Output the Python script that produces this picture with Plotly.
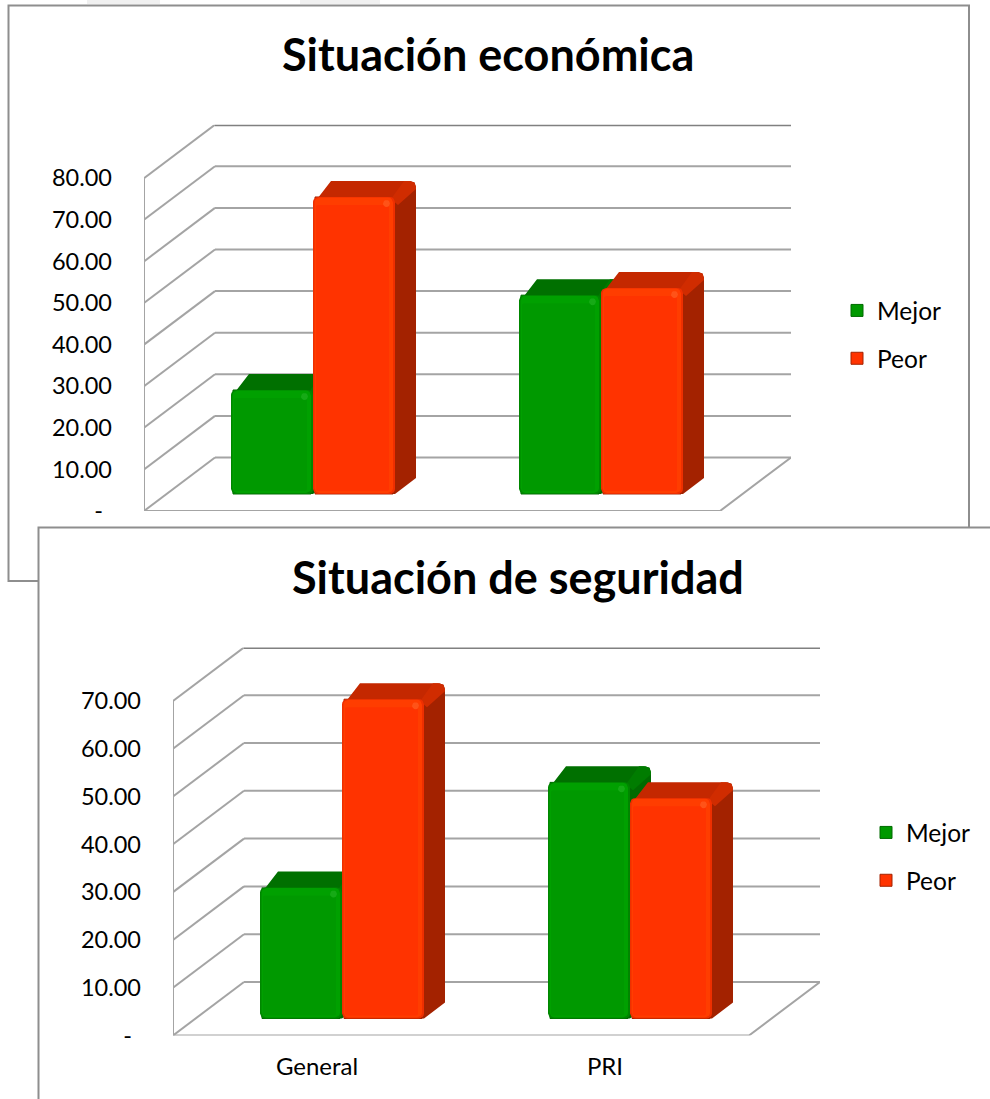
import math
import plotly.graph_objects as go

CATEGORIES = ["General", "PRI"]
SERIES = ["Mejor", "Peor"]
TITLE_1 = "Situación económica"
TITLE_2 = "Situación de seguridad"
MEJOR_1 = [25.0, 47.8]
PEOR_1 = [71.4, 49.5]
MEJOR_2 = [27.4, 49.4]
PEOR_2 = [66.8, 46.1]
TICKS_1 = [0, 10, 20, 30, 40, 50, 60, 70, 80]
TICKS_2 = [0, 10, 20, 30, 40, 50, 60, 70]
W, H = 990, 1099
FONT = "Lato"
GRID = "#a4a4a4"
BORDER = "#8e8e8e"

STYLE = {
    "Mejor": dict(base="#009900", rim="#008600", light="#00a000", hi="#16aa16", side="#006a00", top="#007000", facet="#007c00"),
    "Peor": dict(base="#ff3300", rim="#ee2f00", light="#ff3d00", hi="#ff5318", side="#a32200", top="#c42800", facet="#d02c00"),
}


def rrect(l, r, b, t, rad, sx, sy):
    pts = []
    for cx, cy, a0 in ((r - rad, t - rad, 0), (l + rad, t - rad, 90), (l + rad, b + rad, 180), (r - rad, b + rad, 270)):
        for k in range(5):
            a = math.radians(a0 + k * 22.5)
            pts.append((cx + rad * math.cos(a), cy + rad * math.sin(a)))
    pts.append(pts[0])
    return [p[0] * sx for p in pts], [p[1] * sy for p in pts]


def add_poly(fig, polys, color, xa, ya):
    xs, ys = [], []
    for px, py in polys:
        xs += list(px) + [None]
        ys += list(py) + [None]
    fig.add_trace(go.Scatter(x=xs, y=ys, mode="lines", fill="toself", fillcolor=color, line=dict(width=0, color=color),
                             hoverinfo="skip", showlegend=False, xaxis=xa, yaxis=ya, cliponaxis=False))


def panel(fig, idx, mejor, peor, ticks, left, y0, per10, legend_name):
    xa, ya = ("x", "y") if idx == 1 else ("x2", "y2")
    cat_px = 288.0
    ppu = per10 / 10.0
    back_dx, back_dy = 71.0, 53.5
    sx, sy = 1 / cat_px, 1 / ppu   # pixels to axis units
    top_v = ticks[-1]
    dxu, dyu = back_dx * sx, back_dy * sy
    xn = len(CATEGORIES)

    # walls and floor, from the tick values
    for v in ticks:
        fig.add_trace(go.Scatter(x=[0, dxu], y=[v, v + dyu], mode="lines", line=dict(color=GRID, width=2),
                                 hoverinfo="skip", showlegend=False, xaxis=xa, yaxis=ya, cliponaxis=False))
        fig.add_trace(go.Scatter(x=[dxu, xn + dxu], y=[v + dyu, v + dyu], mode="lines",
                                 line=dict(color="#808080" if v == top_v else GRID, width=3 if v == top_v else 2),
                                 hoverinfo="skip", showlegend=False, xaxis=xa, yaxis=ya, cliponaxis=False))
    fig.add_trace(go.Scatter(x=[0, 0, xn, xn + dxu], y=[top_v, 0, 0, dyu], mode="lines",
                             line=dict(color=GRID, width=2), hoverinfo="skip", showlegend=False,
                             xaxis=xa, yaxis=ya, cliponaxis=False))

    bar_w, shift, base_px, dep_x, dep_y = 82.0, 25.0, 17.0, 21.0, 16.0
    for s, vals in zip(SERIES, (mejor, peor)):
        st = STYLE[s]
        sign = -0.5 if s == "Mejor" else 0.5
        centers = [i + 0.5 + shift * sx + sign * bar_w * sx for i in range(xn)]
        fig.add_trace(go.Bar(x=centers, y=vals, base=[base_px * sy] * xn, width=[(bar_w - 4) * sx] * xn, name=s,
                             marker=dict(color=st["base"], line=dict(width=1, color=st["side"])), legend=legend_name,
                             legendgroup=f"{s}{idx}", xaxis=xa, yaxis=ya, hoverinfo="skip"))
        side, top, facet, rim, light, main, hi = [], [], [], [], [], [], []
        for c, v in zip(centers, vals):
            l = c / sx - bar_w / 2
            r = c / sx + bar_w / 2
            b = base_px
            t = base_px + v * ppu
            ch = 6
            side.append(([(r - 3) * sx, (r + dep_x - ch) * sx, (r + dep_x - 1.5) * sx, (r + dep_x) * sx, (r + dep_x) * sx, r * sx, (r - 3) * sx],
                         [(t - 3) * sy, (t + dep_y) * sy, (t + dep_y - 1.5) * sy, (t + dep_y - ch) * sy, (b + dep_y) * sy, b * sy, b * sy]))
            top.append(([(l + 1) * sx, (l + 4) * sx, (l + dep_x - 3) * sx, (r + dep_x - ch) * sx, r * sx, (l + 3) * sx, (l + 1) * sx],
                        [(t - 6) * sy, (t - 2) * sy, (t + dep_y) * sy, (t + dep_y) * sy, (t - 1) * sy, (t - 1) * sy, (t - 6) * sy]))
            facet.append(([(r - 4) * sx, (r + dep_x - 12) * sx, (r + dep_x - ch) * sx, (r + dep_x - 1.5) * sx, (r + dep_x) * sx, (r + dep_x) * sx, (r + 3) * sx, (r - 4) * sx],
                          [(t - 2) * sy, (t + dep_y) * sy, (t + dep_y) * sy, (t + dep_y - 1.5) * sy, (t + dep_y - ch) * sy, (t + dep_y - 8) * sy, (t - 8) * sy, (t - 2) * sy]))
            rim.append(rrect(l, r, b, t, 5, sx, sy))
            light.append(rrect(l + 1.5, r - 2, b + 1, t - 0.5, 5, sx, sy))
            main.append(rrect(l + 3, r - 6, b + 3, t - 8, 2, sx, sy))
            hi.append(rrect(r - 12, r - 5, t - 10, t - 3, 3.4, sx, sy))
        for polys, key in ((side, "side"), (top, "top"), (facet, "facet"), (rim, "rim"), (light, "light"), (main, "base"), (hi, "hi")):
            add_poly(fig, polys, st[key], xa, ya)

    y_top_px = y0 - (top_v * ppu + back_dy)
    x_right_px = left + xn * cat_px + back_dx
    xconf = dict(domain=[left / W, x_right_px / W], range=[0, (x_right_px - left) * sx], showgrid=False, zeroline=False,
                 showline=False, tickmode="array", tickvals=[i + 0.5 for i in range(xn)],
                 ticktext=CATEGORIES if idx == 2 else ["", ""], ticks="", tickfont=dict(family=FONT, size=24, color="#000000"),
                 ticklabelstandoff=14, fixedrange=True)
    labels = [f"{v:.2f}" if v else "-\u00a0\u2009" for v in ticks]
    yconf = dict(domain=[1 - y0 / H, 1 - y_top_px / H], range=[0, (y0 - y_top_px) * sy], showgrid=False, zeroline=False,
                 showline=False, tickmode="array", tickvals=ticks, ticktext=labels, ticks="",
                 tickfont=dict(family=FONT, size=23.5, color="#000000"), ticklabelstandoff=31, fixedrange=True)
    if idx == 1:
        xconf["anchor"] = "y"
        yconf["anchor"] = "x"
        fig.update_layout(xaxis=xconf, yaxis=yconf)
    else:
        xconf["anchor"] = "y2"
        yconf["anchor"] = "x2"
        fig.update_layout(xaxis2=xconf, yaxis2=yconf)


fig = go.Figure()
panel(fig, 1, MEJOR_1, PEOR_1, TICKS_1, 144, 511, 41.6, "legend")
panel(fig, 2, MEJOR_2, PEOR_2, TICKS_2, 173, 1035.5, 47.8, "legend2")


def rect(x0, y0, x1, y1, fill, line):
    return dict(type="rect", xref="paper", yref="paper", x0=x0 / W, x1=x1 / W, y0=1 - y0 / H, y1=1 - y1 / H,
                fillcolor=fill, line=dict(color=line, width=2 if line != "rgba(0,0,0,0)" else 0), layer="below")


shapes = [
    rect(87, -2, 160, 4, "#f0f0f0", "rgba(0,0,0,0)"),
    rect(300, -2, 380, 4, "#f0f0f0", "rgba(0,0,0,0)"),
    rect(8.5, 5.5, 969, 581, "#ffffff", BORDER),
    rect(38.5, 527.5, 1010, 1120, "#ffffff", BORDER),
]


def title(text, cx, cy):
    return dict(text=f"<b>{text}</b>", xref="paper", yref="paper", x=cx / W, y=1 - cy / H, xanchor="center", yanchor="middle",
                showarrow=False, font=dict(family=FONT, size=45, color="#000000"))


legend_common = dict(bgcolor="rgba(0,0,0,0)", borderwidth=0, font=dict(family=FONT, size=24.5, color="#000000"),
                     xanchor="left", yanchor="top", tracegroupgap=13, orientation="v", traceorder="grouped")

fig.update_layout(
    width=W, height=H, autosize=False, margin=dict(l=0, r=0, t=0, b=0, autoexpand=False), paper_bgcolor="#ffffff",
    plot_bgcolor="rgba(0,0,0,0)", barmode="overlay", shapes=shapes,
    annotations=[title(TITLE_1, 488, 54), title(TITLE_2, 518, 577)],
    legend=dict(x=837 / W, y=1 - 288 / H, **legend_common),
    legend2=dict(x=866 / W, y=1 - 810 / H, **legend_common),
)
fig.write_html("out.html", config=dict(displayModeBar=False), post_script="document.body.style.margin='0';")
